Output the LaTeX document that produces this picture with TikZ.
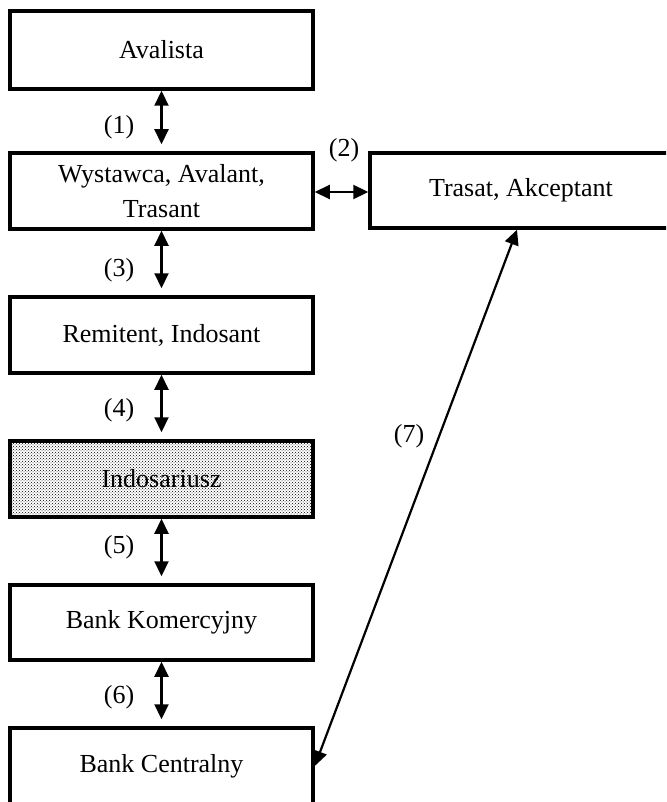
\documentclass[tikz,border=0pt]{standalone}
\usepackage{fontspec}
\setmainfont{Liberation Serif}
\usetikzlibrary{arrows.meta,patterns}
\begin{document}
\begin{tikzpicture}[x=1pt,y=-1pt,
  box/.style={draw,line width=3.5pt,minimum width=303pt,minimum height=76pt,
    inner sep=0pt,align=center,font=\fontsize{26}{30}\selectfont},
  shaded/.style={pattern=crosshatch dots,pattern color=black},
  link/.style={line width=2.2pt,{Triangle[length=15pt,width=14pt]}-{Triangle[length=15pt,width=14pt]}},
  num/.style={font=\fontsize{26}{30}\selectfont,inner sep=0pt}]
\useasboundingbox (0,0) rectangle (666,802);
\clip (0,0) rectangle (666,802);

% left column of parties
\node[box,minimum height=78pt] (aval) at (161.5,50) {Avalista};
\node[box] (wyst) at (161.5,191) {Wystawca, Avalant,\\[5pt]Trasant};
\node[box] (remi) at (161.5,335) {Remitent, Indosant};
\node[box,shaded] (indo) at (161.5,479) {Indosariusz};
\node[box,minimum height=75pt] (bkom) at (161.5,622.5) {Bank Komercyjny};
\node[box] (bcen) at (161.5,766) {Bank Centralny};

% drawee on the right
\node[box,minimum width=302pt,minimum height=75pt] (tras) at (521,190.5) {Trasat, Akceptant};

% relations
\draw[link,shorten >=7pt] (aval.south) -- (wyst.north);
\draw[link,shorten >=7pt] (wyst.south) -- (remi.north);
\draw[link,shorten >=7pt] (remi.south) -- (indo.north);
\draw[link,shorten >=7pt] (indo.south) -- (bkom.north);
\draw[link,shorten >=7pt] (bkom.south) -- (bcen.north);
\draw[link] (wyst.east |- 0,192) -- (tras.west |- 0,192);
\coordinate (t7) at ([xshift=-4pt]tras.south);
\draw[link] (t7) -- (bcen.east);

% numbered labels
\node[num] (l1) at (119,127) {(1)};
\node[num] (l2) at (344,150) {(2)};
\node[num] (l3) at (119,270) {(3)};
\node[num] (l4) at (119,410) {(4)};
\node[num] (l5) at (119,547) {(5)};
\node[num] (l6) at (119,697) {(6)};
\node[num] (l7) at (409,436) {(7)};
\end{tikzpicture}
\end{document}
